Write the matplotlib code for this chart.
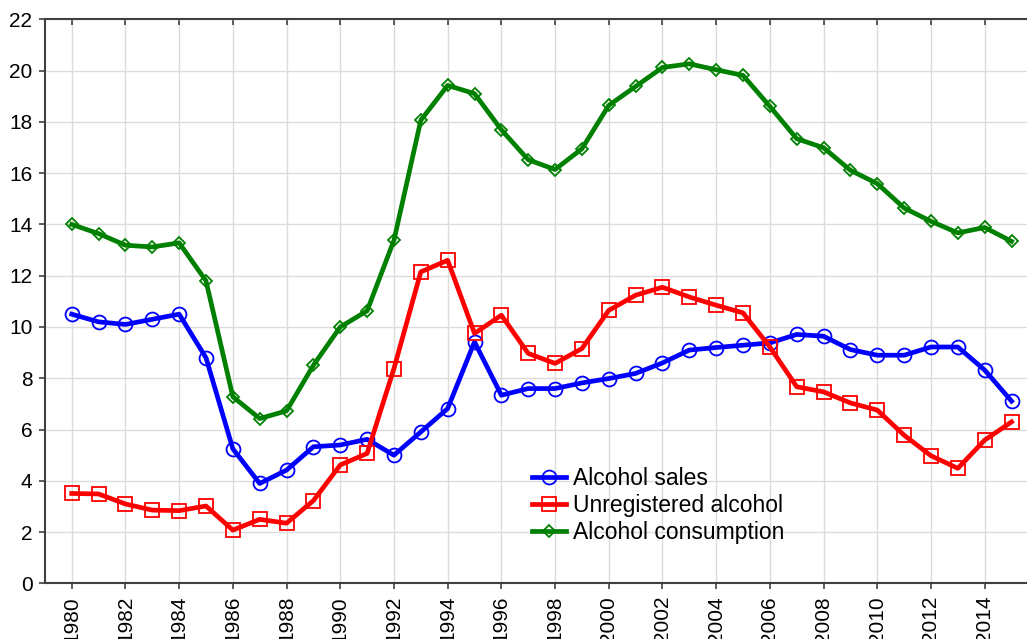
"""Alcohol sales, unregistered alcohol and total consumption, 1980-2015."""

import matplotlib
import matplotlib.pyplot as plt

matplotlib.use("Agg")

years = list(range(1980, 2016))

alcohol_sales = [
    10.5, 10.2, 10.1, 10.3, 10.5, 8.8, 5.25, 3.9, 4.42, 5.33,
    5.4, 5.62, 5.0, 5.91, 6.82, 9.42, 7.34, 7.6, 7.6, 7.82,
    7.99, 8.19, 8.6, 9.1, 9.2, 9.29, 9.38, 9.71, 9.64, 9.12,
    8.9, 8.9, 9.22, 9.22, 8.32, 7.11,
]
unregistered = [
    3.51, 3.49, 3.1, 2.86, 2.84, 3.02, 2.08, 2.5, 2.35, 3.23,
    4.62, 5.07, 8.38, 12.15, 12.6, 9.75, 10.46, 8.97, 8.58, 9.16,
    10.65, 11.24, 11.55, 11.17, 10.85, 10.55, 9.22, 7.67, 7.47, 7.04,
    6.76, 5.78, 4.98, 4.49, 5.59, 6.3,
]
consumption = [
    14.0, 13.64, 13.19, 13.12, 13.28, 11.8, 7.28, 6.43, 6.73, 8.51,
    10.0, 10.63, 13.38, 18.06, 19.42, 19.1, 17.69, 16.52, 16.14, 16.95,
    18.64, 19.38, 20.12, 20.26, 20.03, 19.81, 18.6, 17.34, 16.99, 16.11,
    15.59, 14.64, 14.12, 13.67, 13.88, 13.34,
]

year_ticks = list(range(1980, 2016, 2))
value_ticks = list(range(0, 23, 2))

plt.rcParams["font.family"] = ["Liberation Sans", "DejaVu Sans"]
TICK_FS = 15
LEG_FS = 16.5
SPINE = "#404040"

fig = plt.figure(figsize=(10.27, 6.39), dpi=100)
ax = fig.add_axes([0.0437, 0.0869, 0.9674, 0.883])

series = [
    (alcohol_sales, "Alcohol sales", "#0000ff", "o", 10),
    (unregistered, "Unregistered alcohol", "#ff0000", "s", 10),
    (consumption, "Alcohol consumption", "#008000", "D", 6.5),
]
for vals, label, color, marker, ms in series:
    ax.plot(years, vals, color=color, linewidth=3.4, marker=marker,
            markersize=ms, markerfacecolor="none", markeredgecolor=color,
            markeredgewidth=1.3, label=label, zorder=3)

ax.set_xlim(1979, 2016)
ax.set_ylim(0, 22)
ax.set_xticks(year_ticks)
ax.set_xticklabels([str(y) for y in year_ticks], rotation=90, fontsize=TICK_FS)
ax.set_yticks(value_ticks)
ax.set_yticklabels([str(v) for v in value_ticks], fontsize=TICK_FS)

ax.grid(True, color="#dcdcdc", linewidth=1.0, zorder=0)
ax.set_axisbelow(True)

for side in ("left", "bottom", "top"):
    ax.spines[side].set_color(SPINE)
    ax.spines[side].set_linewidth(1.5)
ax.spines["right"].set_visible(False)

ax.tick_params(axis="both", colors=SPINE, labelcolor="black", length=4, width=1.2)
ax.tick_params(axis="x", which="both", top=True, direction="out", pad=5)
ax.tick_params(axis="y", direction="out", pad=5)
# top ticks point into the plot
for t in ax.xaxis.get_major_ticks():
    t.tick2line.set_marker(3)  # TICKDOWN

leg = ax.legend(loc="center left", bbox_to_anchor=(0.49, 0.138), frameon=False,
                fontsize=LEG_FS, borderpad=0, borderaxespad=0, handlelength=1.5,
                handletextpad=0.3, labelspacing=0.17, numpoints=1)

fig.savefig("out.png", dpi=100)
